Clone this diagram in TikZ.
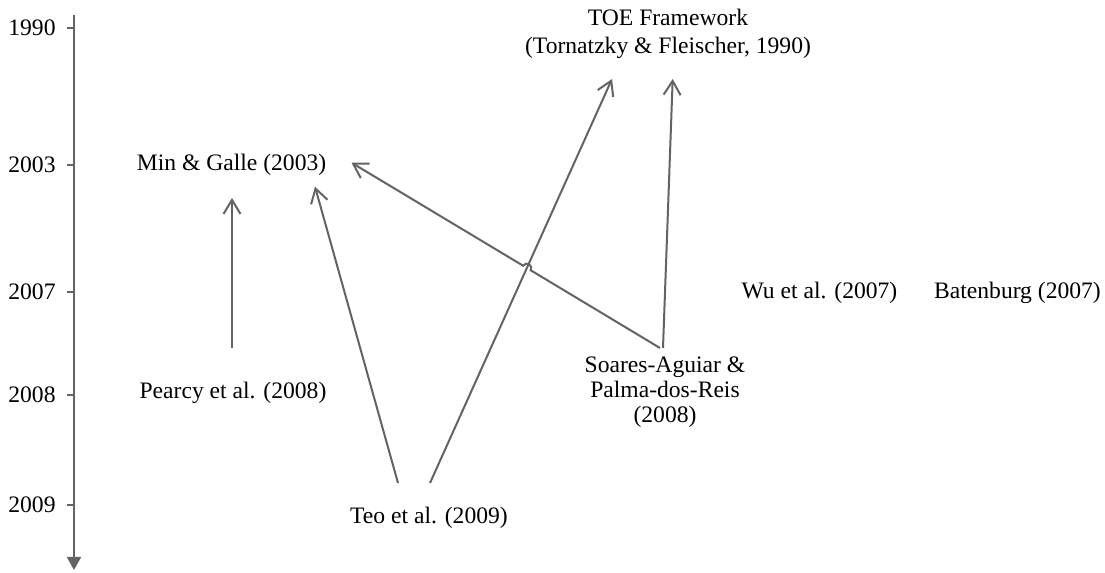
\documentclass[tikz,border=0pt]{standalone}
\usepackage{fontspec}
\setmainfont{Liberation Serif}
\usepackage{xcolor}
\definecolor{cLine}{HTML}{636363}
\usepackage{tikz}
\usetikzlibrary{positioning,arrows.meta,calc}
\tikzset{
  year-label/.style={anchor=east,inner sep=0pt},
  ref-node/.style={align=center,inner sep=3pt},
  axis/.style={-{Triangle[length=6.5pt,width=7pt]},line width=1pt,draw=cLine},
  tick/.style={line width=1pt,draw=cLine},
  arrow/.style={-{Straight Barb[length=7pt,width=8.5pt]},line width=1pt,draw=cLine},
}

\begin{document}
\begin{tikzpicture}[x=0.5pt,y=0.5pt,font=\fontsize{11.8}{14}\selectfont]
  \useasboundingbox (0,0) rectangle (1105,573);
  % time axis with year ticks
  \coordinate (axis-top) at (74,558);
  \coordinate (axis-end) at (74,3);
  \draw[axis] (axis-top) -- (axis-end);
  \foreach \yr/\ypos in {1990/545,2003/408,2007/281,2008/178,2009/68}{
    \draw[tick] (67,\ypos) -- (74,\ypos);
    \node[year-label] (y\yr) at (56,\ypos) {\yr};
  }
  % studies, placed on the row of their year
  \node[ref-node] (toe) at (668,539.5)
    {TOE Framework\\(Tornatzky \& Fleischer, 1990)};
  \node[ref-node] (mg)     at (231.5,408) {Min \& Galle (2003)};
  \node[ref-node] (wu)     at (819.5,280) {Wu et al. (2007)};
  \node[ref-node,right=12pt of wu] (bat) {Batenburg (2007)};
  \node[ref-node] (pearcy) at (233,180) {Pearcy et al. (2008)};
  \node[ref-node,font=\fontsize{11.8}{12.4}\selectfont] (sar) at (665,181)
    {Soares-Aguiar \&\\Palma-dos-Reis\\(2008)};
  \node[ref-node] (teo)    at (429,55)  {Teo et al. (2009)};
  % arrow ends
  \coordinate (teo-l)    at ($(teo)+(-31,35)$);
  \coordinate (teo-r)    at ($(teo)+(1,35)$);
  \coordinate (sar-l)    at ($(sar)+(-5,44)$);
  \coordinate (sar-r)    at ($(sar)+(-2,44)$);
  \coordinate (toe-l)    at ($(toe)+(-56,-45.5)$);
  \coordinate (toe-r)    at ($(toe)+(4.7,-45.5)$);
  \coordinate (mg-b)     at ($(mg)+(0.5,-33)$);
  \coordinate (mg-br)    at ($(mg)+(83.5,-21.7)$);
  \coordinate (mg-r)     at ($(mg)+(120,2.3)$);
  \coordinate (cross) at (intersection of teo-r--toe-l and sar-l--mg-r);
  % citation links
  \draw[arrow] ($(pearcy)+(-1,45)$) -- (mg-b);
  \draw[arrow] (teo-l) -- (mg-br);
  \draw[arrow] (teo-r) -- (toe-l);
  \draw[arrow] (sar-r) -- (toe-r);
  \draw[arrow] let \p1=($(mg-r)-(sar-l)$), \n1={atan2(\y1,\x1)} in
    (sar-l) -- ($(cross)!2.2pt!(sar-l)$)
    arc[start angle=\n1-180,end angle=\n1,radius=2.2pt] -- (mg-r);
\end{tikzpicture}
\end{document}
